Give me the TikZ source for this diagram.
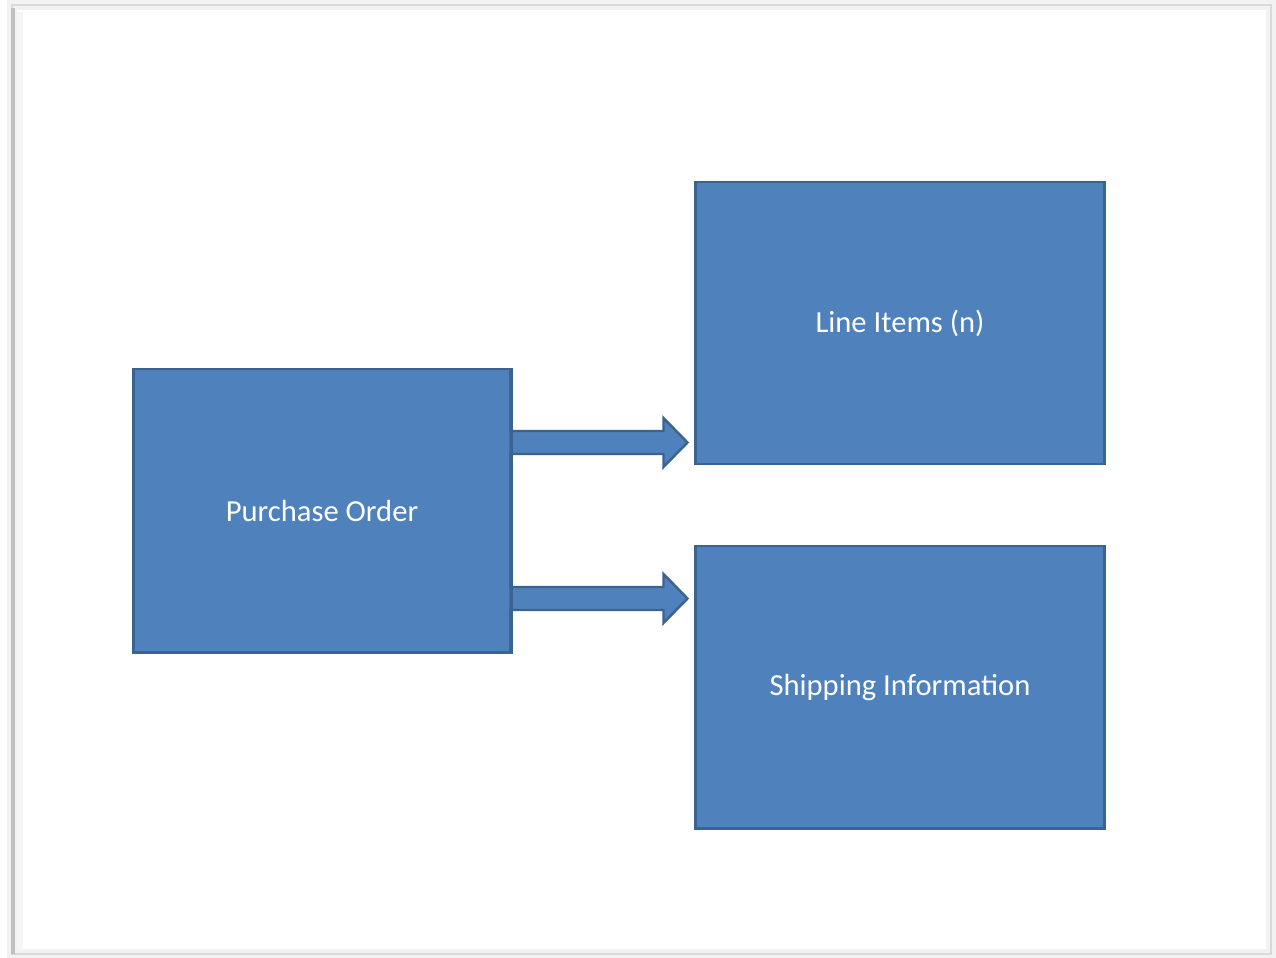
\documentclass[tikz,border=0pt]{standalone}
\usepackage{fontspec}
\setmainfont{Carlito}
\usetikzlibrary{calc}

\definecolor{boxfill}{HTML}{4F81BD}
\definecolor{boxline}{HTML}{3A6391}

\tikzset{
  entity/.style={draw=boxline, line width=0.8pt, fill=boxfill, text=white,
    font=\fontsize{8.7}{10}\selectfont, inner sep=0pt},
  flowarrow/.style={draw=boxline, line width=0.7pt, fill=boxfill, line join=miter},
}

% block arrow from #1 (tail) to #2 (tip), drawn in pixel units
\newcommand\blockarrow[2]{%
  \draw[flowarrow] ($(#1)+(-2,-11.5)$) -- ($(#2)+(-24,-11.5)$)
    -- ($(#2)+(-24,-24.5)$) -- (#2) -- ($(#2)+(-24,24.5)$)
    -- ($(#2)+(-24,11.5)$) -- ($(#1)+(-2,11.5)$);}

\begin{document}
\begin{tikzpicture}[x=0.01cm, y=-0.01cm]
  \useasboundingbox (0,0) rectangle (1276,957);
  % page sheet with soft edge
  \fill[white] (0,0) rectangle (1276,957);
  \draw[gray!10, line width=3pt] (12,5) rectangle (1271,954);
  \draw[gray!30, line width=0.8pt] (12,5) rectangle (1271,954);
  \draw[gray!50, line width=1.2pt] (13,8) -- (13,954);
  \draw[gray!8, line width=1.5pt] (20,12) -- (20,950);

  % entities
  \node[entity, minimum width=3.76cm, minimum height=2.83cm] (po) at (322,510.5) {Purchase Order};
  \node[entity, minimum width=4.08cm, minimum height=2.82cm] (li) at (900,323) {Line Items (n)};
  \node[entity, minimum width=4.08cm, minimum height=2.82cm] (si) at (900,687) {Shipping Information};

  % arrow levels
  \coordinate (y1) at (0,442.5);
  \coordinate (y2) at (0,598.5);
  \coordinate (s1) at (po.east |- y1);
  \coordinate (s2) at (po.east |- y2);
  \coordinate (t1) at ($(li.west |- y1)+(-7,0)$);
  \coordinate (t2) at ($(si.west |- y2)+(-7,0)$);

  \blockarrow{s1}{t1}
  \blockarrow{s2}{t2}

  % redraw the source edge over the arrow tails
  \draw[boxline, line width=0.8pt] (po.north east) -- (po.south east);
\end{tikzpicture}
\end{document}
